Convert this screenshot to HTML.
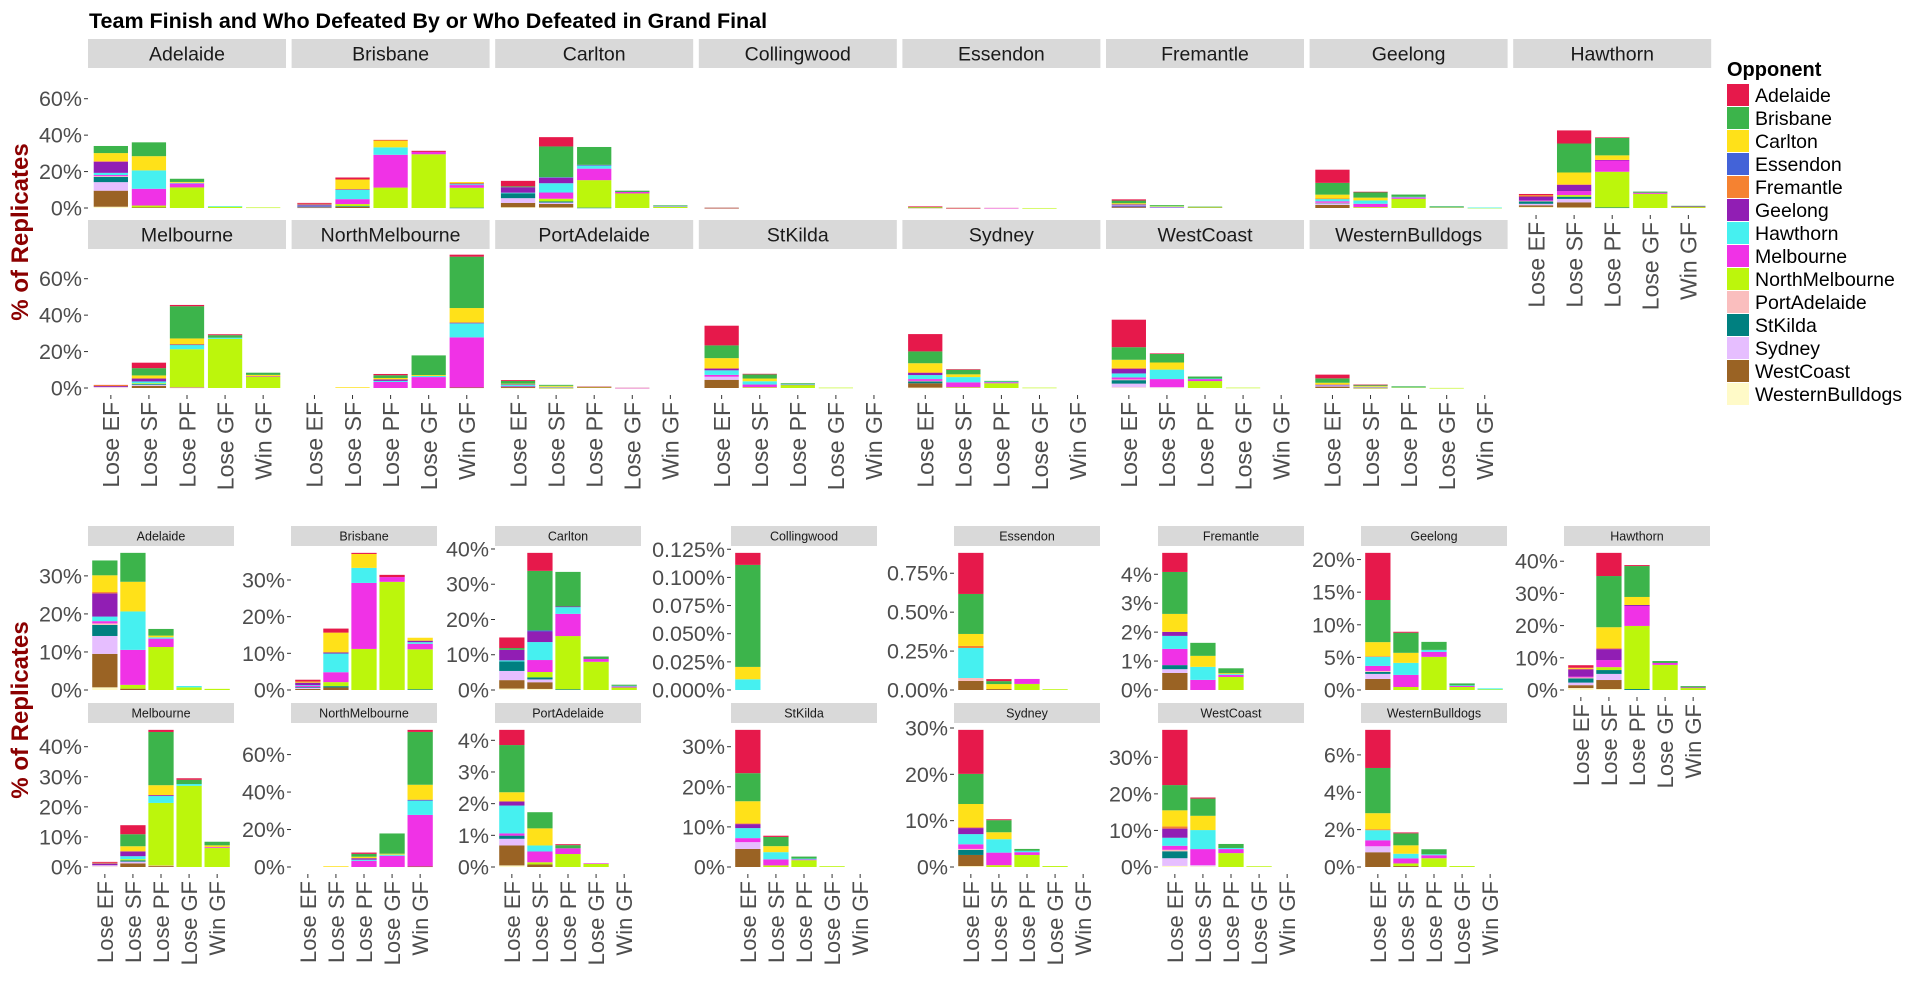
<!DOCTYPE html>
<html><head><meta charset="utf-8"><style>
html,body{margin:0;padding:0;background:#fff;}
svg{display:block;font-family:"Liberation Sans",Arial,sans-serif;}
</style></head><body>
<svg id="chart" width="1920" height="1005" viewBox="0 0 1920 1005" xmlns="http://www.w3.org/2000/svg">
<text x="89" y="28" font-size="21.5" font-weight="bold" fill="#000">Team Finish and Who Defeated By or Who Defeated in Grand Final</text>
<text transform="translate(28,232) rotate(-90)" text-anchor="middle" font-size="24" font-weight="bold" fill="#8B0000">% of Replicates</text>
<text transform="translate(28,710) rotate(-90)" text-anchor="middle" font-size="24" font-weight="bold" fill="#8B0000">% of Replicates</text>
<g id="top"></g>
<g id="bottom"></g>
<g id="legend"></g>
</svg>
<script>
const opponents = ["Adelaide","Brisbane","Carlton","Essendon","Fremantle","Geelong","Hawthorn","Melbourne","NorthMelbourne","PortAdelaide","StKilda","Sydney","WestCoast","WesternBulldogs"];
const oppColors = ["#E6194B","#3CB44B","#FFE119","#4363D8","#F58231","#911EB4","#46F0F0","#F032E6","#BCF60C","#FABEBE","#008080","#E6BEFF","#9A6324","#FFFAC8"];
const categories = ["Lose EF","Lose SF","Lose PF","Lose GF","Win GF"];
const teams = ["Adelaide","Brisbane","Carlton","Collingwood","Essendon","Fremantle","Geelong","Hawthorn","Melbourne","NorthMelbourne","PortAdelaide","StKilda","Sydney","WestCoast","WesternBulldogs"];
const z = [0,0,0,0,0,0,0,0,0,0,0,0,0,0];
const adelaideVals = [
 [0,3.9,4.4,0,0.35,6.1,1.2,0.6,0,0.4,2.9,4.7,8.8,0.7],
 [0,7.6,7.8,0,0,0,10.1,9.2,1.0,0,0,0,0.35,0],
 [0,1.75,0.45,0,0,0,0.35,2.2,11.3,0,0,0,0,0],
 [0,0,0,0,0,0,0.35,0,0.7,0,0,0,0,0],
 [0,0,0,0,0,0,0,0,0.3,0,0,0,0,0]];
const brisbaneVals = [
 [0.5,0,0.3,0,0,0.7,0.2,0.3,0,0,0.2,0.3,0.3,0],
 [1.1,0,5.4,0,0,0.3,5.1,2.7,1.1,0,0.35,0,0.7,0],
 [0.3,0,3.8,0,0,0,4.1,18,11.2,0,0,0,0,0],
 [0.6,0,0,0,0,0,0,1.3,29.5,0,0,0,0,0],
 [0,0,0.8,0,0,0.4,0.45,1.5,10.9,0,0.2,0,0,0]];
const carltonVals = [
 [3.0,0.5,0,0,0,3.0,0.3,0,0,0,2.7,2.6,2.4,0.4],
 [5.1,16.9,0,0.3,0,3.0,5.1,3.4,1.5,0,0.6,0.8,1.9,0.3],
 [0,9.8,0,0,0,0.2,1.9,6.3,15.1,0,0.2,0,0,0],
 [0,0.7,0,0,0,0,0,0.8,8.0,0,0,0,0,0],
 [0,0.3,0,0,0,0,0.2,0.3,0.7,0,0,0,0,0]];
const collingwoodVals = [
 [0.0107,0.0906,0.011,0,0,0,0.0095,0,0,0,0,0,0,0],
 z, z, z, z];
const essendonVals = [
 [0.264,0.257,0.077,0,0.013,0,0.193,0,0,0.019,0,0,0.058,0],
 [0.013,0.019,0.032,0,0,0,0,0,0,0,0,0,0.006,0],
 [0,0,0,0,0,0,0,0.032,0.039,0,0,0,0,0],
 [0,0,0,0,0,0,0,0,0.005,0,0,0,0,0],
 z];
const fremantleVals = [
 [0.66,1.45,0.62,0,0,0.14,0.45,0.56,0,0,0.14,0.13,0.59,0],
 [0,0.45,0.38,0,0,0,0.45,0.35,0,0,0,0,0,0],
 [0,0.17,0.03,0,0,0,0.03,0.07,0.45,0,0,0,0,0],
 z, z];
const geelongVals = [
 [7.23,6.46,2.15,0,0.1,0,1.4,0.77,0,0.15,0.3,0.77,1.7,0],
 [0.15,3.08,1.54,0,0,0,1.85,1.85,0.46,0,0,0,0,0],
 [0,1.23,0,0,0,0,0.3,0.77,5.08,0,0,0,0,0],
 [0,0.3,0,0,0,0,0.1,0.15,0.46,0,0,0,0,0],
 [0,0,0,0,0,0,0.15,0,0.1,0,0,0,0,0]];
const hawthornVals = [
 [0.8,0,0.3,0,0.2,2.2,0,0.3,0,0.3,1.3,0.8,0.9,0.6],
 [7.2,15.9,6.5,0,0.3,3.4,0,2.2,0.9,0,1.2,1.9,2.8,0.3],
 [0.3,9.6,2.5,0,0,0.3,0,6.2,19.6,0,0.3,0,0,0],
 [0,0.6,0,0,0,0,0,0.6,7.8,0,0,0,0,0],
 [0,0.4,0,0,0,0,0,0.2,0.6,0,0,0,0,0]];
const melbourneVals = [
 [0.3,0,0.2,0,0,0.6,0,0,0,0,0,0.4,0,0.2],
 [3.0,4.0,1.7,0,0,1.6,1.0,0,0.4,0,0.4,0.6,1.2,0],
 [0.7,17.7,3.3,0,0,0.3,2.3,0,20.8,0.2,0,0,0.3,0],
 [0.5,1.4,0,0,0,0,0.6,0,27,0,0,0,0,0],
 [0,1.2,0.6,0,0,0,0,0.3,6.3,0,0,0,0,0]];
const northMelbourneVals = [
 z,
 [0,0,0.4,0,0,0,0,0,0,0,0,0,0,0],
 [0.7,1.5,0.8,0,0,0.8,0.6,3.3,0,0,0,0,0,0],
 [0,10.8,0.5,0,0,0,0.6,6.0,0,0,0,0,0,0],
 [1.1,28.2,8.0,0,0,0.4,7.7,27.5,0,0,0,0,0.3,0]];
const portAdelaideVals = [
 [0.48,1.49,0.29,0,0,0.13,0.88,0.07,0,0,0.1,0.21,0.63,0.05],
 [0,0.51,0.54,0,0,0,0.19,0.34,0.07,0,0,0,0.08,0],
 [0.03,0.1,0,0,0,0,0,0.18,0.41,0,0,0,0,0],
 [0,0,0,0,0,0,0,0.02,0.1,0,0,0,0,0],
 z];
const stKildaVals = [
 [10.8,7.0,5.5,0,0.2,1.0,2.5,1.0,0,0,0,1.7,4.5,0],
 [0.3,2.3,1.5,0,0,0,1.8,1.5,0.4,0,0,0,0,0],
 [0,0.5,0,0,0,0,0.2,0.2,1.7,0,0,0,0,0],
 [0,0,0,0,0,0,0,0,0.2,0,0,0,0,0],
 z];
const sydneyVals = [
 [9.5,6.5,5.0,0,0.2,1.3,2.2,1.0,0,0.2,1.1,0,2.4,0.2],
 [0.2,2.6,1.5,0,0,0,2.9,2.7,0.4,0,0,0,0,0],
 [0,0.4,0,0,0,0,0.3,0.6,2.6,0,0,0,0,0],
 [0,0,0,0,0,0,0,0,0.2,0,0,0,0,0],
 z];
const westCoastVals = [
 [15.1,6.9,4.4,0,0.6,2.5,2.2,1.1,0,0.4,1.9,2.1,0,0.3],
 [0.3,4.7,3.9,0,0,0,5.2,4.4,0,0,0,0.3,0,0.2],
 [0,1.1,0,0,0,0,0.3,1.1,3.8,0,0,0,0,0],
 [0,0,0,0,0,0,0,0,0.2,0,0,0,0,0],
 z];
const westernBulldogsVals = [
 [2.04,2.42,0.86,0,0.05,0,0.54,0.32,0,0,0,0.32,0.79,0],
 [0.05,0.64,0.45,0,0,0,0.25,0.27,0.14,0,0,0,0.05,0],
 [0,0.27,0,0,0,0,0.05,0.16,0.47,0,0,0,0,0],
 [0,0,0,0,0,0,0,0,0.05,0,0,0,0,0],
 z];
const teamVals = [adelaideVals,brisbaneVals,carltonVals,collingwoodVals,essendonVals,fremantleVals,geelongVals,hawthornVals,melbourneVals,northMelbourneVals,portAdelaideVals,stKildaVals,sydneyVals,westCoastVals,westernBulldogsVals];
const topTickLabels = ["0%","20%","40%","60%"];
const bottomTickLabels = [
 ["0%","10%","20%","30%"],["0%","10%","20%","30%"],["0%","10%","20%","30%","40%"],
 ["0.000%","0.025%","0.050%","0.075%","0.100%","0.125%"],["0.00%","0.25%","0.50%","0.75%"],
 ["0%","1%","2%","3%","4%"],["0%","5%","10%","15%","20%"],["0%","10%","20%","30%","40%"],
 ["0%","10%","20%","30%","40%"],["0%","20%","40%","60%"],["0%","1%","2%","3%","4%"],
 ["0%","10%","20%","30%"],["0%","10%","20%","30%"],["0%","10%","20%","30%"],["0%","2%","4%","6%"]];

const NS = "http://www.w3.org/2000/svg";
function mk(tag, attrs, parent){const e=document.createElementNS(NS,tag);for(const k in attrs)e.setAttribute(k,attrs[k]);parent.appendChild(e);return e;}
function slug(s){return s.replace(/([a-z])([A-Z])/g,'$1-$2').replace(/\s+/g,'-').toLowerCase();}
function total(bar){return bar.reduce((a,b)=>a+b,0);}

// draw one panel
function drawPanel(g, ti, x0, w, stripTop, stripH, stripFont, zeroY, k, showX, xFont, tickLabels){
  const team = teams[ti];
  const strip = mk('rect',{x:x0,y:stripTop,width:w,height:stripH,fill:'#D9D9D9'},g);
  
  
  const st = mk('text',{x:x0+w/2,y:stripTop+stripH/2+stripFont*0.36,'text-anchor':'middle','font-size':stripFont,fill:'#1A1A1A'},g);
  st.textContent = team;
  
  
  const unit = w/5.2, bw = unit*0.9;
  const vals = teamVals[ti];
  categories.forEach((cat,ci)=>{
    const cx = x0 + (0.6+ci)*unit;
    let cum = 0;
    for(let oi=opponents.length-1; oi>=0; oi--){
      const v = vals[ci][oi];
      if(!v) continue;
      const y1 = zeroY - cum*k, y2 = zeroY - (cum+v)*k;
      const r = mk('rect',{x:cx-bw/2,y:y2,width:bw,height:Math.max(y1-y2,0.6),fill:oppColors[oi]},g);
      
      
      cum += v;
    }
    if(showX){
      const pb = zeroY + 7;
      const tk = mk('line',{x1:cx,x2:cx,y1:pb,y2:pb+4,stroke:'#333','stroke-width':1},g);
      
      
      const t = mk('text',{transform:`translate(${cx+xFont*0.36},${pb+7}) rotate(-90)`,'text-anchor':'end','font-size':xFont,fill:'#4D4D4D'},g);
      t.textContent = cat;
      
      
    }
  });
  if(tickLabels){
    tickLabels.forEach(lab=>{
      const v = parseFloat(lab);
      const y = zeroY - v*k;
      const tk = mk('line',{x1:x0-4,x2:x0,y1:y,y2:y,stroke:'#333','stroke-width':1},g);
      
      
      const t = mk('text',{x:x0-6,y:y+7.5,'text-anchor':'end','font-size':21.5,fill:'#4D4D4D'},g);
      t.textContent = lab;
      
      
    });
  }
}

// top faceted chart (fixed scales)
const topG = document.getElementById('top');
let gmax = 0;
teamVals.forEach(tv=>tv.forEach(b=>{gmax=Math.max(gmax,total(b));}));
const topK = 140/(gmax*1.05);
teams.forEach((team,ti)=>{
  const row = ti<8?0:1, col = ti<8?ti:ti-8;
  const x0 = 88 + 203.6*col;
  const stripTop = 39 + row*181;
  const zeroY = 208 + row*180;
  const showX = row===1 || (row===0 && col===7);
  const g = mk('g',{},topG);
  
  
  drawPanel(g, ti, x0, 198, stripTop, 29, 19.5, zeroY, topK, showX, 23, col===0?topTickLabels:null);
});

// bottom arranged plots (free scales)
const botG = document.getElementById('bottom');
const botX = [88,291,495,731,954,1158,1361,1564];
teams.forEach((team,ti)=>{
  const row = ti<8?0:1, col = ti<8?ti:ti-8;
  const x0 = botX[col];
  const stripTop = row===0?526:703;
  const zeroY = row===0?690:867;
  let m = 0; teamVals[ti].forEach(b=>{m=Math.max(m,total(b));});
  const k = 144/(m*1.05);
  const showX = row===1 || (row===0 && col===7);
  const g = mk('g',{},botG);
  
  
  drawPanel(g, ti, x0, 146, stripTop, 20, 12.5, zeroY, k, showX, 22, bottomTickLabels[ti]);
});

// legend
const lg = document.getElementById('legend');
const lt = mk('text',{x:1727,y:76,'font-size':20,'font-weight':'bold',fill:'#000'},lg);
lt.textContent = 'Opponent';


opponents.forEach((o,i)=>{
  const y = 84 + 23*i;
  const r = mk('rect',{x:1727,y:y,width:22,height:22,fill:oppColors[i]},lg);
  
  
  const t = mk('text',{x:1755,y:y+18,'font-size':19.5,fill:'#000'},lg);
  t.textContent = o;
  
  
});
</script>
</body></html>
